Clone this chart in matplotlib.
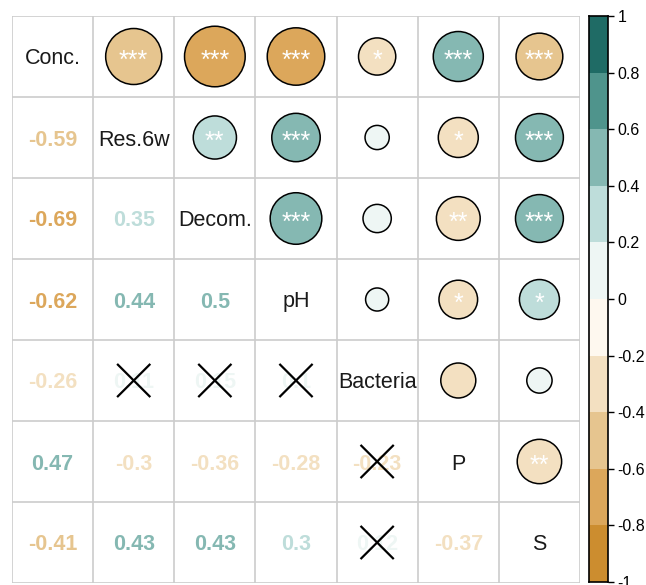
import numpy as np
import matplotlib.pyplot as plt
from matplotlib.patches import Circle, Rectangle
from matplotlib.colors import ListedColormap, BoundaryNorm

plt.rcParams['font.family'] = ['Liberation Sans', 'DejaVu Sans']

labels = ["Conc.", "Res.6w", "Decom.", "pH", "Bacteria", "P", "S"]

# lower triangle of the correlation matrix (row i, col j < i)
corr_rows = [
    [],
    [-0.59],
    [-0.69, 0.35],
    [-0.62, 0.44, 0.50],
    [-0.26, 0.11, 0.15, 0.10],
    [0.47, -0.30, -0.36, -0.28, -0.23],
    [-0.41, 0.43, 0.43, 0.30, 0.12, -0.37],
]
star_rows = [
    [],
    ["***"],
    ["***", "**"],
    ["***", "***", "***"],
    ["*", "", "", ""],
    ["***", "*", "**", "*", ""],
    ["***", "***", "***", "*", "", "**"],
]

bin_colors = ["#CC8D2F", "#DCA75B", "#E6C58F", "#F3E0C1", "#FEF8EF",
              "#EEF6F4", "#BEDDDA", "#85B8B2", "#4F948C", "#1F6B65"]
bounds = np.linspace(-1, 1, 11)
cmap = ListedColormap(bin_colors)
norm = BoundaryNorm(bounds, cmap.N)

n = len(labels)
R = np.eye(n)
S = np.full((n, n), "", dtype=object)
for i, row in enumerate(corr_rows):
    for j, v in enumerate(row):
        R[i, j] = R[j, i] = v
        S[i, j] = S[j, i] = star_rows[i][j]

fig = plt.figure(figsize=(6.46, 5.85), dpi=100)
ax = fig.add_axes([12 / 646, 2 / 585, 568 / 646, 567 / 585])
ax.set_xlim(0, n)
ax.set_ylim(n, 0)
ax.axis('off')

for k in range(n + 1):
    ax.plot([k, k], [0, n], color='#CCCCCC', lw=1.2, zorder=1)
    ax.plot([0, n], [k, k], color='#CCCCCC', lw=1.2, zorder=1)

fs = 15.5
for i in range(n):
    for j in range(n):
        x, y = j + 0.5, i + 0.5
        v = R[i, j]
        col = cmap(norm(v))
        if i == j:
            ax.text(x, y, labels[i], ha='center', va='center_baseline',
                    fontsize=fs, color='#1a1a1a', zorder=3)
        elif j < i:
            ax.text(x, y, f"{v:g}", ha='center', va='center_baseline',
                    fontsize=fs, fontweight='bold', color=col, zorder=3)
            if S[i, j] == "":
                d = 0.195
                ax.plot([x - d, x + d], [y - d, y + d], color='black', lw=1.6, zorder=4)
                ax.plot([x - d, x + d], [y + d, y - d], color='black', lw=1.6, zorder=4)
        else:
            ax.add_patch(Circle((x, y), 0.45 * np.sqrt(abs(v)), facecolor=col,
                                edgecolor='black', lw=1.1, zorder=3))
            if S[i, j]:
                ax.text(x, y + 0.14, S[i, j], ha='center', va='baseline',
                        fontsize=18, color='white', zorder=4)

cax = fig.add_axes([589 / 646, 3 / 585, 19 / 646, 566 / 585])
for b0, b1, c in zip(bounds[:-1], bounds[1:], bin_colors):
    cax.add_patch(Rectangle((0, b0), 1, b1 - b0, facecolor=c, edgecolor='none'))
cax.set_xlim(0, 1)
cax.set_ylim(-1, 1)
cax.set_xticks([])
cax.yaxis.tick_right()
ticks = np.round(np.linspace(-1, 1, 11), 1)
cax.set_yticks(ticks)
cax.set_yticklabels([f"{t:g}" for t in ticks], fontsize=11.5)
cax.tick_params(axis='y', length=4, width=1, pad=3)
for s in cax.spines.values():
    s.set_linewidth(1.2)

fig.savefig("out.png", dpi=100)
